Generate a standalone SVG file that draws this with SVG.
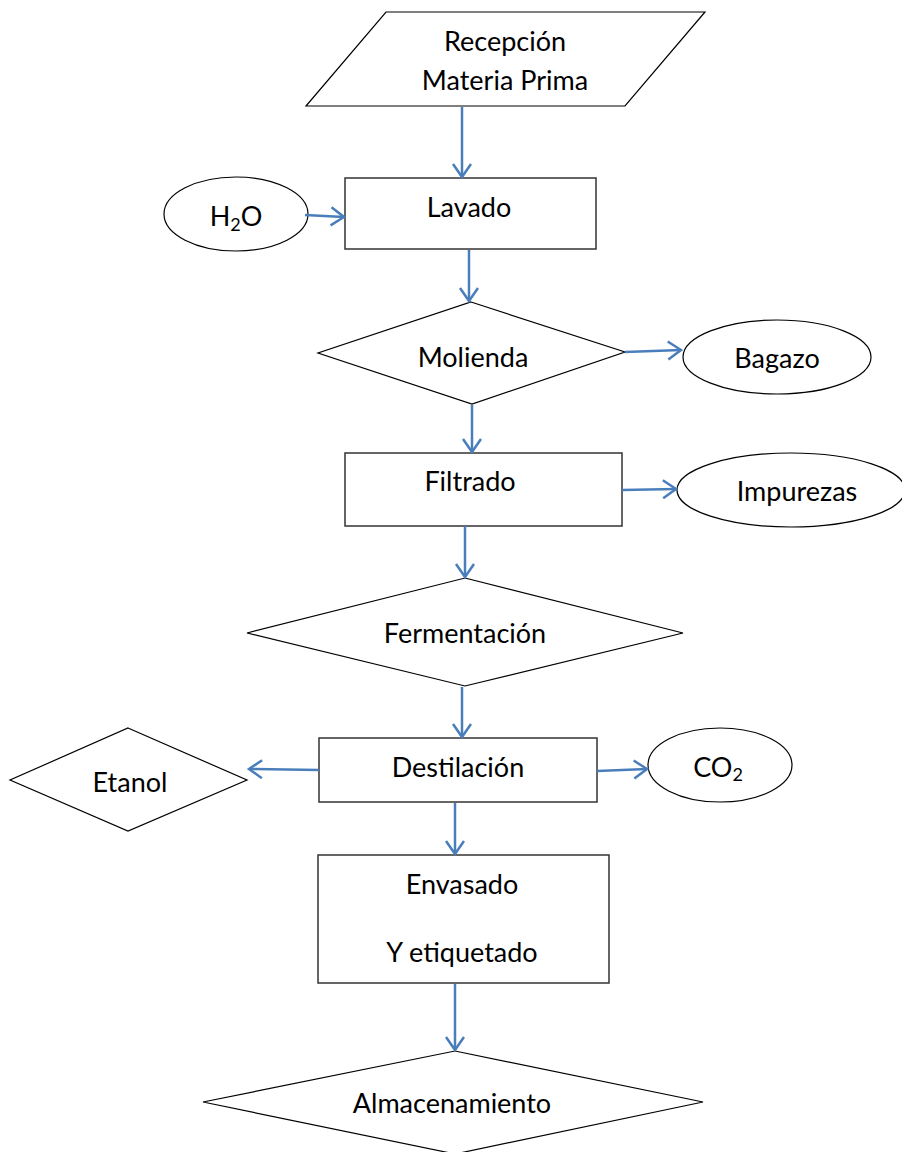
<svg xmlns="http://www.w3.org/2000/svg" width="902" height="1152" viewBox="0 0 902 1152">
<style>
.s{fill:#fff;stroke:#000;stroke-width:1.2}
.r{fill:#fff;stroke:#333;stroke-width:1.5}
.t{font-family:Lato,"Open Sans",sans-serif;font-size:27px;fill:#000;text-anchor:middle}
.c{fill:none;stroke:#4a7ebb;stroke-width:2.5}
</style>
<defs>
<marker id="a" markerWidth="18" markerHeight="22" refX="14" refY="10" orient="auto" markerUnits="userSpaceOnUse">
<path d="M1,1 L14,10 L1,19" fill="none" stroke="#4a7ebb" stroke-width="2.5"/>
</marker>
</defs>
<rect width="902" height="1152" fill="#fff"/>
<g id="recepcion">
<polygon class="s" points="386,12 705,12 625,106 306,106"/>
<text class="t" x="505" y="51">Recepción</text>
<text class="t" x="505" y="90">Materia Prima</text>
</g>
<g id="lavado">
<rect class="r" x="345" y="178" width="251" height="71"/>
<text class="t" x="469" y="217">Lavado</text>
</g>
<g id="h2o">
<ellipse class="s" cx="236" cy="214" rx="72" ry="37"/>
<text class="t" x="236" y="226">H<tspan font-size="18" dy="5">2</tspan><tspan dy="-5">O</tspan></text>
</g>
<g id="molienda">
<polygon class="s" points="471,302 625,352 472,404 318,353"/>
<text class="t" x="473" y="367">Molienda</text>
</g>
<g id="bagazo">
<ellipse class="s" cx="777" cy="357" rx="94" ry="37"/>
<text class="t" x="777" y="368">Bagazo</text>
</g>
<g id="filtrado">
<rect class="r" x="345" y="453" width="277" height="73"/>
<text class="t" x="470" y="491">Filtrado</text>
</g>
<g id="impurezas">
<ellipse class="s" cx="791" cy="490" rx="114" ry="37"/>
<text class="t" x="797" y="501">Impurezas</text>
</g>
<g id="fermentacion">
<polygon class="s" points="465,578 683,633 465,686 247,633"/>
<text class="t" x="465" y="643">Fermentación</text>
</g>
<g id="destilacion">
<rect class="r" x="319" y="738" width="278" height="64"/>
<text class="t" x="458" y="777">Destilación</text>
</g>
<g id="etanol">
<polygon class="s" points="128,728 247,780 128,831 10,780"/>
<text class="t" x="130" y="792">Etanol</text>
</g>
<g id="co2">
<ellipse class="s" cx="720" cy="765" rx="72" ry="37"/>
<text class="t" x="718" y="777">CO<tspan font-size="18" dy="4">2</tspan></text>
</g>
<g id="envasado">
<rect class="r" x="318" y="855" width="291" height="128"/>
<text class="t" x="462" y="894">Envasado</text>
<text class="t" x="462" y="962">Y etiquetado</text>
</g>
<g id="almacenamiento">
<polygon class="s" points="455,1051 703,1102 455,1154 203,1102"/>
<text class="t" x="452" y="1113">Almacenamiento</text>
</g>
<g id="connectors">
<line class="c" x1="462" y1="107" x2="462" y2="177" marker-end="url(#a)"/>
<line class="c" x1="305" y1="215" x2="344" y2="217" marker-end="url(#a)"/>
<line class="c" x1="469" y1="250" x2="469" y2="301" marker-end="url(#a)"/>
<line class="c" x1="625" y1="352" x2="681" y2="350" marker-end="url(#a)"/>
<line class="c" x1="472" y1="405" x2="472" y2="452" marker-end="url(#a)"/>
<line class="c" x1="622" y1="490" x2="676" y2="489" marker-end="url(#a)"/>
<line class="c" x1="465" y1="526" x2="465" y2="577" marker-end="url(#a)"/>
<line class="c" x1="462" y1="687" x2="462" y2="737" marker-end="url(#a)"/>
<line class="c" x1="319" y1="770" x2="249" y2="769" marker-end="url(#a)"/>
<line class="c" x1="597" y1="771" x2="647" y2="769" marker-end="url(#a)"/>
<line class="c" x1="455" y1="803" x2="455" y2="854" marker-end="url(#a)"/>
<line class="c" x1="455" y1="984" x2="455" y2="1050" marker-end="url(#a)"/>
</g>
</svg>
